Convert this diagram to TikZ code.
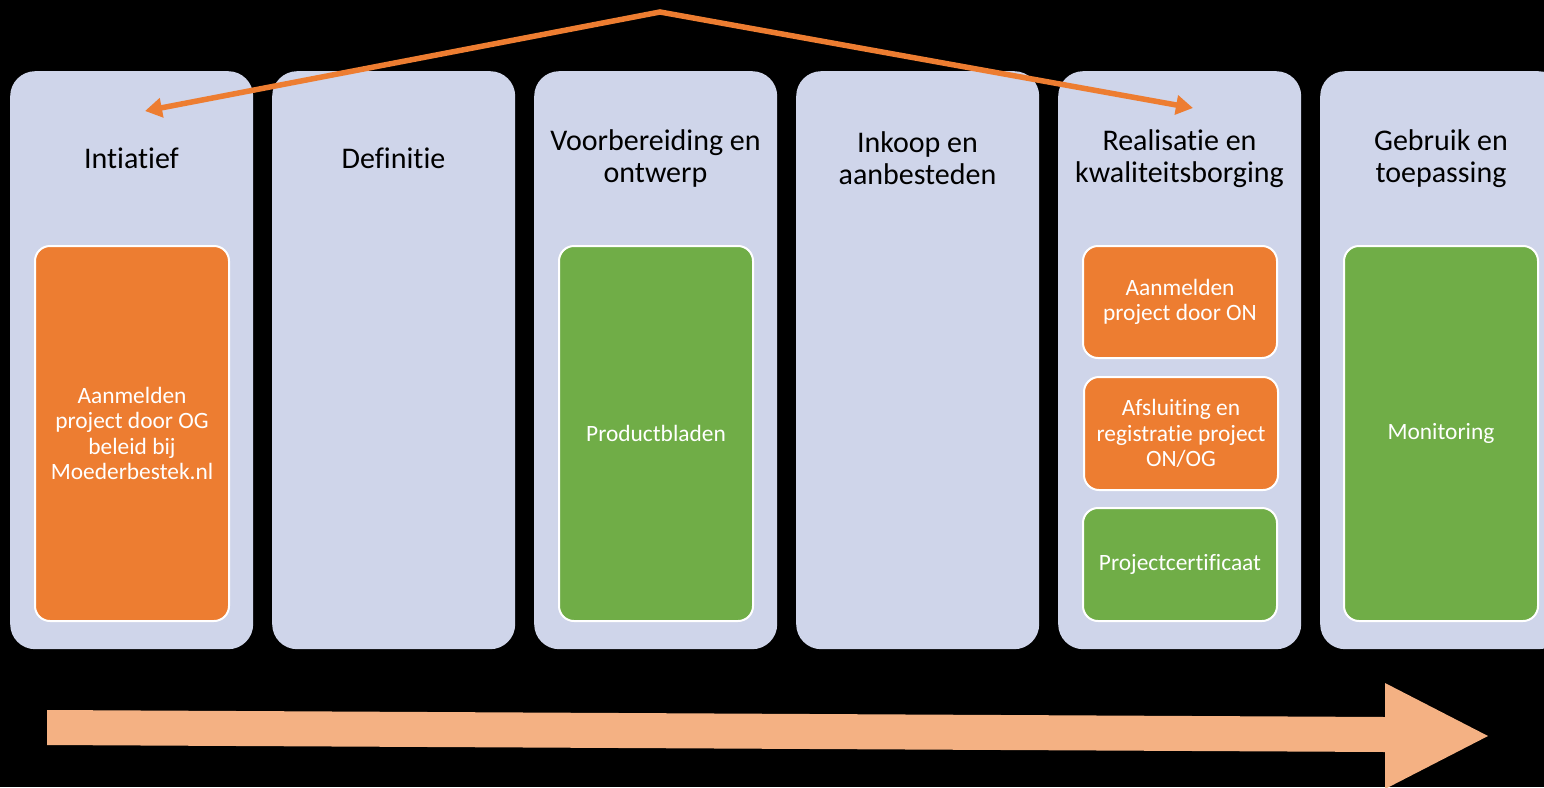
\documentclass[tikz,border=0pt]{standalone}
\usepackage{fontspec}
\setmainfont{Carlito}[RawFeature=-liga]
\usetikzlibrary{arrows.meta}
\definecolor{lav}{HTML}{CFD5EA}
\definecolor{org}{HTML}{ED7D31}
\definecolor{grn}{HTML}{70AD47}
\definecolor{lorg}{HTML}{F4B183}
\tikzset{
  col/.style={fill=lav, rounded corners=25pt, minimum width=243pt, minimum height=578pt, inner sep=0pt, anchor=north west},
  ttl/.style={align=center, font=\fontsize{30}{32}\selectfont, text=black},
  inbox/.style={draw=white, line width=2pt, rounded corners=15pt, minimum width=194pt, inner sep=0pt, align=center, text=white, font=\fontsize{23.4}{25.5}\selectfont, anchor=north west},
  obox/.style={inbox, fill=org},
  gbox/.style={inbox, fill=grn},
}
\begin{document}
\begin{tikzpicture}[x=1pt,y=-1pt]
\fill[black] (0,0) rectangle (1544,787);
\useasboundingbox (0,0) rectangle (1544,787);
% columns
\node[col] (c1) at (10,71) {};
\node[col] (c2) at (272,71) {};
\node[col] (c3) at (534,71) {};
\node[col] (c4) at (796,71) {};
\node[col] (c5) at (1058,71) {};
\node[col] (c6) at (1320,71) {};
% titles
\node[ttl] (t1) at (131.5,158.5) {Intiatief};
\node[ttl] (t2) at (393.5,158.5) {Definitie};
\node[ttl] (t3) at (655.5,158.5) {Voorbereiding en\\ontwerp};
\node[ttl] (t4) at (917.5,158.5) {Inkoop en\\aanbesteden};
\node[ttl] (t5) at (1179.5,158.5) {Realisatie en\\kwaliteitsborging};
\node[ttl] (t6) at (1441,158.5) {Gebruik en\\toepassing};
% inner boxes
\node[obox, minimum height=375pt] (b1) at (34,245) {Aanmelden\\project door OG\\beleid bij\\Moederbestek.nl};
\node[gbox, minimum height=375pt] (b3) at (558,245) {Productbladen};
\node[obox, minimum height=112pt] (b5a) at (1082,245) {Aanmelden\\project door ON};
\node[obox, minimum height=113pt] (b5b) at (1083,376) {Afsluiting en\\registratie project\\ON/OG};
\node[gbox, minimum height=113pt] (b5c) at (1082,507) {Projectcertificaat};
\node[gbox, minimum height=375pt] (b6) at (1343,245) {Monitoring};
% top arrow
\coordinate (apex) at (660,12);
\coordinate (p1) at (145,111);
\coordinate (p2) at (1193,108);
\draw[org, line width=5.5pt, line join=miter, {Triangle[length=17pt,width=19pt]}-{Triangle[length=17pt,width=19pt]}] (p1) -- (apex) -- (p2);
% bottom block arrow
\fill[lorg] (47,710) -- (1385,717) -- (1385,683) -- (1488,736) -- (1385,789) -- (1385,752) -- (47,745) -- cycle;
\end{tikzpicture}
\end{document}
